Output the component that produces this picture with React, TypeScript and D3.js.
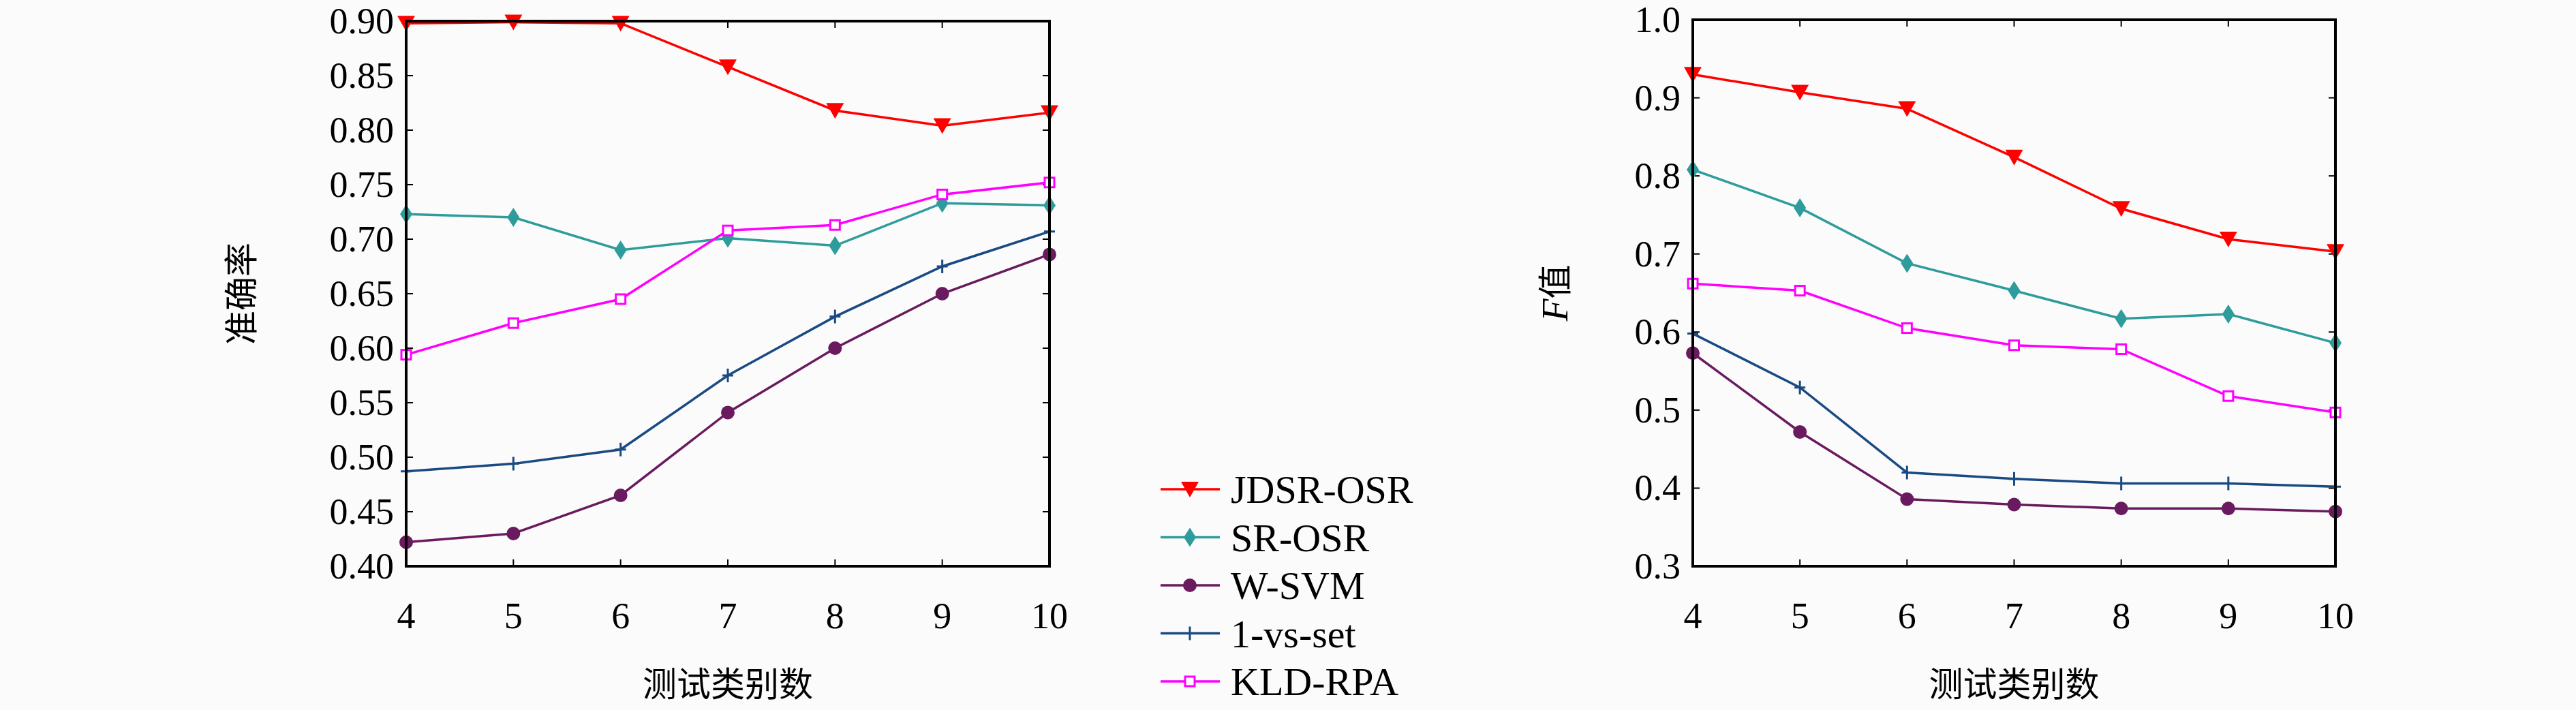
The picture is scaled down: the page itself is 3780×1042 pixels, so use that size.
import { useEffect, useRef } from 'react'
import * as d3 from 'd3'

const xCats = [4, 5, 6, 7, 8, 9, 10]
const seriesNames = ['JDSR-OSR', 'SR-OSR', 'W-SVM', '1-vs-set', 'KLD-RPA']
const seriesColors = ['#ff0000', '#2f9c9c', '#6a1a5e', '#1a4a82', '#ff00ff']
const seriesMarkers = ['tri', 'diamond', 'circle', 'plus', 'square']

const accJDSR = [0.898, 0.899, 0.898, 0.858, 0.818, 0.804, 0.816]
const accSR = [0.723, 0.720, 0.690, 0.701, 0.694, 0.733, 0.731]
const accWSVM = [0.422, 0.430, 0.465, 0.541, 0.600, 0.650, 0.686]
const accOneVs = [0.487, 0.494, 0.507, 0.575, 0.629, 0.675, 0.707]
const accKLD = [0.594, 0.623, 0.645, 0.708, 0.713, 0.741, 0.752]

const fJDSR = [0.930, 0.907, 0.886, 0.824, 0.758, 0.719, 0.703]
const fSR = [0.808, 0.759, 0.688, 0.653, 0.617, 0.623, 0.586]
const fWSVM = [0.573, 0.472, 0.386, 0.379, 0.374, 0.374, 0.370]
const fOneVs = [0.598, 0.529, 0.420, 0.412, 0.406, 0.406, 0.402]
const fKLD = [0.662, 0.653, 0.605, 0.583, 0.578, 0.518, 0.497]

const accTicks = [0.40, 0.45, 0.50, 0.55, 0.60, 0.65, 0.70, 0.75, 0.80, 0.85, 0.90]
const fTicks = [0.3, 0.4, 0.5, 0.6, 0.7, 0.8, 0.9, 1.0]

const SERIF = '"Liberation Serif", "DejaVu Serif", serif'
const CJK = '"Noto Sans CJK SC", sans-serif'

function drawMarker(g: d3.Selection<SVGGElement, unknown, null, undefined>, kind: string, x: number, y: number, color: string) {
  if (kind === 'tri') {
    g.append('path').attr('d', `M${x - 13},${y - 11}L${x + 13},${y - 11}L${x},${y + 12}Z`).attr('fill', color)
  } else if (kind === 'diamond') {
    g.append('path').attr('d', `M${x},${y - 14}L${x + 9},${y}L${x},${y + 14}L${x - 9},${y}Z`).attr('fill', color)
  } else if (kind === 'circle') {
    g.append('circle').attr('cx', x).attr('cy', y).attr('r', 10).attr('fill', color)
  } else if (kind === 'plus') {
    g.append('path').attr('d', `M${x - 8},${y}H${x + 8}M${x},${y - 10}V${y + 10}`).attr('stroke', color).attr('stroke-width', 3)
  } else {
    g.append('rect').attr('x', x - 7).attr('y', y - 7).attr('width', 14).attr('height', 14)
      .attr('fill', 'white').attr('stroke', color).attr('stroke-width', 3)
  }
}

function drawPanel(
  svg: d3.Selection<SVGSVGElement, unknown, null, undefined>,
  box: { x0: number; x1: number; y0: number; y1: number },
  data: number[][], ticks: number[], fmt: (v: number) => string,
  ylabel: (t: d3.Selection<SVGTextElement, unknown, null, undefined>) => void, ylabelX: number,
) {
  const g = svg.append('g')
  const x = d3.scaleLinear().domain([4, 10]).range([box.x0, box.x1])
  const y = d3.scaleLinear().domain([ticks[0], ticks[ticks.length - 1]]).range([box.y1, box.y0])

  // inward ticks on all sides
  ticks.forEach(t => {
    g.append('line').attr('x1', box.x0).attr('x2', box.x0 + 10).attr('y1', y(t)).attr('y2', y(t)).attr('stroke', '#000').attr('stroke-width', 2)
    g.append('line').attr('x1', box.x1).attr('x2', box.x1 - 10).attr('y1', y(t)).attr('y2', y(t)).attr('stroke', '#000').attr('stroke-width', 2)
    g.append('text').attr('x', box.x0 - 18).attr('y', y(t) + 18).attr('text-anchor', 'end')
      .attr('font-family', SERIF).attr('font-size', 54).text(fmt(t))
  })
  xCats.forEach(c => {
    g.append('line').attr('x1', x(c)).attr('x2', x(c)).attr('y1', box.y1).attr('y2', box.y1 - 10).attr('stroke', '#000').attr('stroke-width', 2)
    g.append('line').attr('x1', x(c)).attr('x2', x(c)).attr('y1', box.y0).attr('y2', box.y0 + 10).attr('stroke', '#000').attr('stroke-width', 2)
    g.append('text').attr('x', x(c)).attr('y', 922).attr('text-anchor', 'middle')
      .attr('font-family', SERIF).attr('font-size', 54).text(String(c))
  })

  const line = d3.line<number>().x((_, i) => x(xCats[i])).y(v => y(v))
  data.forEach((vals, si) => {
    g.append('path').attr('d', line(vals)).attr('fill', 'none').attr('stroke', seriesColors[si]).attr('stroke-width', 3.5)
    vals.forEach((v, i) => drawMarker(g, seriesMarkers[si], x(xCats[i]), y(v), seriesColors[si]))
  })

  g.append('rect').attr('x', box.x0).attr('y', box.y0).attr('width', box.x1 - box.x0).attr('height', box.y1 - box.y0)
    .attr('fill', 'none').attr('stroke', '#000').attr('stroke-width', 4)

  g.append('text').attr('x', (box.x0 + box.x1) / 2).attr('y', 1022).attr('text-anchor', 'middle')
    .attr('font-family', CJK).attr('font-size', 50).text('测试类别数')

  const yl = g.append('text').attr('transform', `translate(${ylabelX},${(box.y0 + box.y1) / 2}) rotate(-90)`)
    .attr('text-anchor', 'middle').attr('font-size', 50)
  ylabel(yl)
}

export default function App() {
  const ref = useRef<SVGSVGElement>(null)
  useEffect(() => {
    if (!ref.current) return
    const svg = d3.select(ref.current)
    svg.selectAll('*').remove()
    svg.append('rect').attr('width', 3780).attr('height', 1042).attr('fill', '#fbfbfb')

    drawPanel(svg, { x0: 596, x1: 1540, y0: 31, y1: 831 },
      [accJDSR, accSR, accWSVM, accOneVs, accKLD], accTicks, v => v.toFixed(2),
      t => t.attr('font-family', CJK).text('准确率'), 372)

    drawPanel(svg, { x0: 2484, x1: 3427, y0: 29, y1: 831 },
      [fJDSR, fSR, fWSVM, fOneVs, fKLD], fTicks, v => v.toFixed(1),
      t => {
        t.append('tspan').attr('font-family', SERIF).attr('font-style', 'italic').attr('font-size', 54).text('F')
        t.append('tspan').attr('font-family', CJK).text('值')
      }, 2300)

    // legend
    const lg = svg.append('g')
    seriesNames.forEach((name, i) => {
      const yy = 718 + i * 70.5
      lg.append('line').attr('x1', 1703).attr('x2', 1790).attr('y1', yy).attr('y2', yy)
        .attr('stroke', seriesColors[i]).attr('stroke-width', 3.5)
      drawMarker(lg, seriesMarkers[i], 1746, yy, seriesColors[i])
      lg.append('text').attr('x', 1806).attr('y', yy + 20).attr('font-family', SERIF).attr('font-size', 58).text(name)
    })
  }, [])
  return (
    <div style={{ position: 'absolute', left: 0, top: 0 }}>
      <svg ref={ref} width={3780} height={1042} style={{ display: 'block' }} />
    </div>
  )
}
